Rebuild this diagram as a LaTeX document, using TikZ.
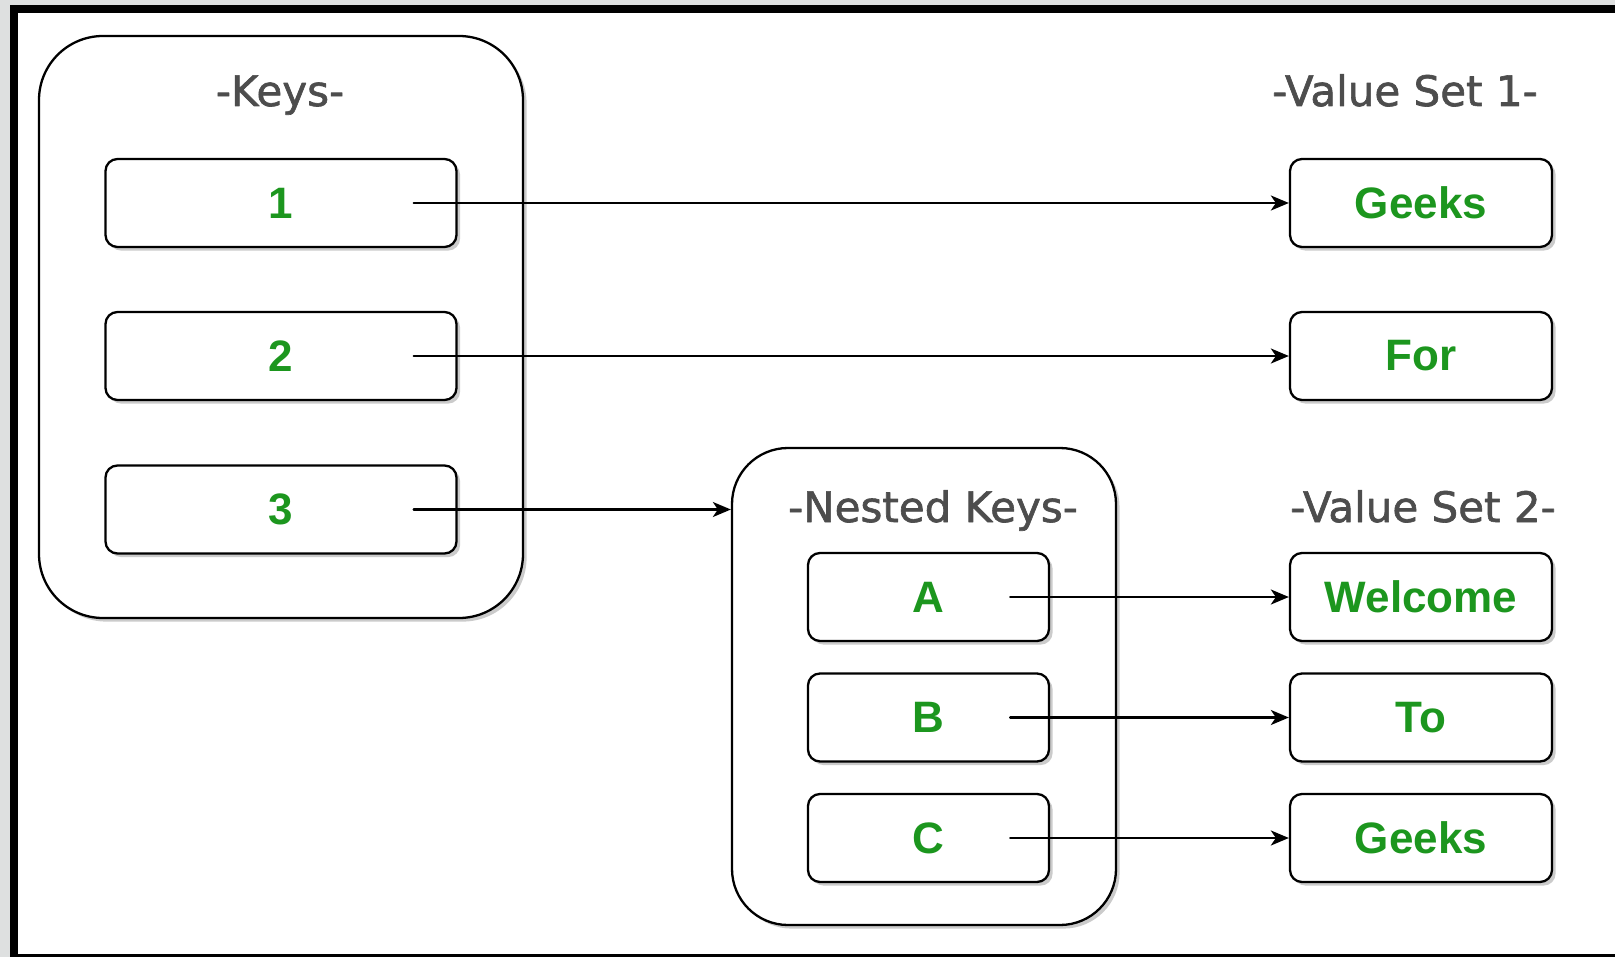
\documentclass[tikz,border=0pt]{standalone}
\usepackage{fontspec}
\newfontfamily\titlefont[FakeBold=1.5]{DejaVu Sans}
\newfontfamily\itemfont{Liberation Sans}
\usetikzlibrary{arrows.meta,shadows}
\definecolor{keygreen}{RGB}{28,150,30}
\definecolor{titlegray}{RGB}{77,77,77}
\definecolor{framegray}{RGB}{222,224,224}

\begin{document}
\begin{tikzpicture}[
		x=0.5pt, y=-0.5pt,
		>={Stealth[length=9pt,width=7.5pt,inset=2.5pt]},
		line width=1.15pt,
		line cap=round,
		line join=round,
		softshadow/.style={drop shadow={shadow xshift=1.8pt, shadow yshift=-1.8pt, fill=black!40}},
		box/.style={draw, fill=white, rounded corners=6pt, minimum height=44pt, softshadow,
			text=keygreen, font=\itemfont\bfseries\fontsize{22pt}{26pt}\selectfont},
		keybox/.style={box, minimum width=175.5pt},
		nestbox/.style={box, minimum width=120.5pt},
		valbox/.style={box, minimum width=131pt},
		group/.style={draw, fill=white, softshadow},
		title/.style={text=titlegray, anchor=base, font=\titlefont\fontsize{21pt}{24pt}\selectfont}
		]
		\useasboundingbox (0,0) rectangle (1615,957);
		% frame
		\fill[framegray] (0,0) rectangle (1615,957);
		\fill[black] (10,5) rectangle (1615,957);
		\fill[white] (18,13) rectangle (1615,954);
		% containers
		\node[group, rounded corners=32pt, minimum width=242pt, minimum height=291pt] (keys) at (281,327) {};
		\node[group, rounded corners=28pt, minimum width=192pt, minimum height=238.5pt] (nested) at (924,686.5) {};
		% titles
		\node[title] (keystitle) at (280,106) {-Keys-};
		\node[title] (set1title) at (1405,106) {-Value Set 1-};
		\node[title] (nesttitle) at (933,522) {-Nested Keys-};
		\node[title] (set2title) at (1423,522) {-Value Set 2-};
		% keys
		\node[keybox] (k1) at (281,203) {1};
		\node[keybox] (k2) at (281,356) {2};
		\node[keybox] (k3) at (281,509.5) {3};
		% nested keys
		\node[nestbox] (na) at (928.5,597) {A};
		\node[nestbox] (nb) at (928.5,717.5) {B};
		\node[nestbox] (nc) at (928.5,838) {C};
		% values
		\node[valbox] (v1) at (1421,203) {Geeks};
		\node[valbox] (v2) at (1421,356) {For};
		\node[valbox] (v3) at (1421,597) {Welcome};
		\node[valbox] (v4) at (1421,717.5) {To};
		\node[valbox] (v5) at (1421,838) {Geeks};
		\begin{scope}[->]
		\draw ([xshift=-22pt]k1.east) -- (v1.west);
		\draw ([xshift=-22pt]k2.east) -- (v2.west);
		\draw ([xshift=-22pt]k3.east) -- (k3 -| nested.west);
		\draw ([xshift=-20pt]na.east) -- (v3.west);
		\draw ([xshift=-20pt]nb.east) -- (v4.west);
		\draw ([xshift=-20pt]nc.east) -- (v5.west);
		\end{scope}
		\end{tikzpicture}
\end{document}
